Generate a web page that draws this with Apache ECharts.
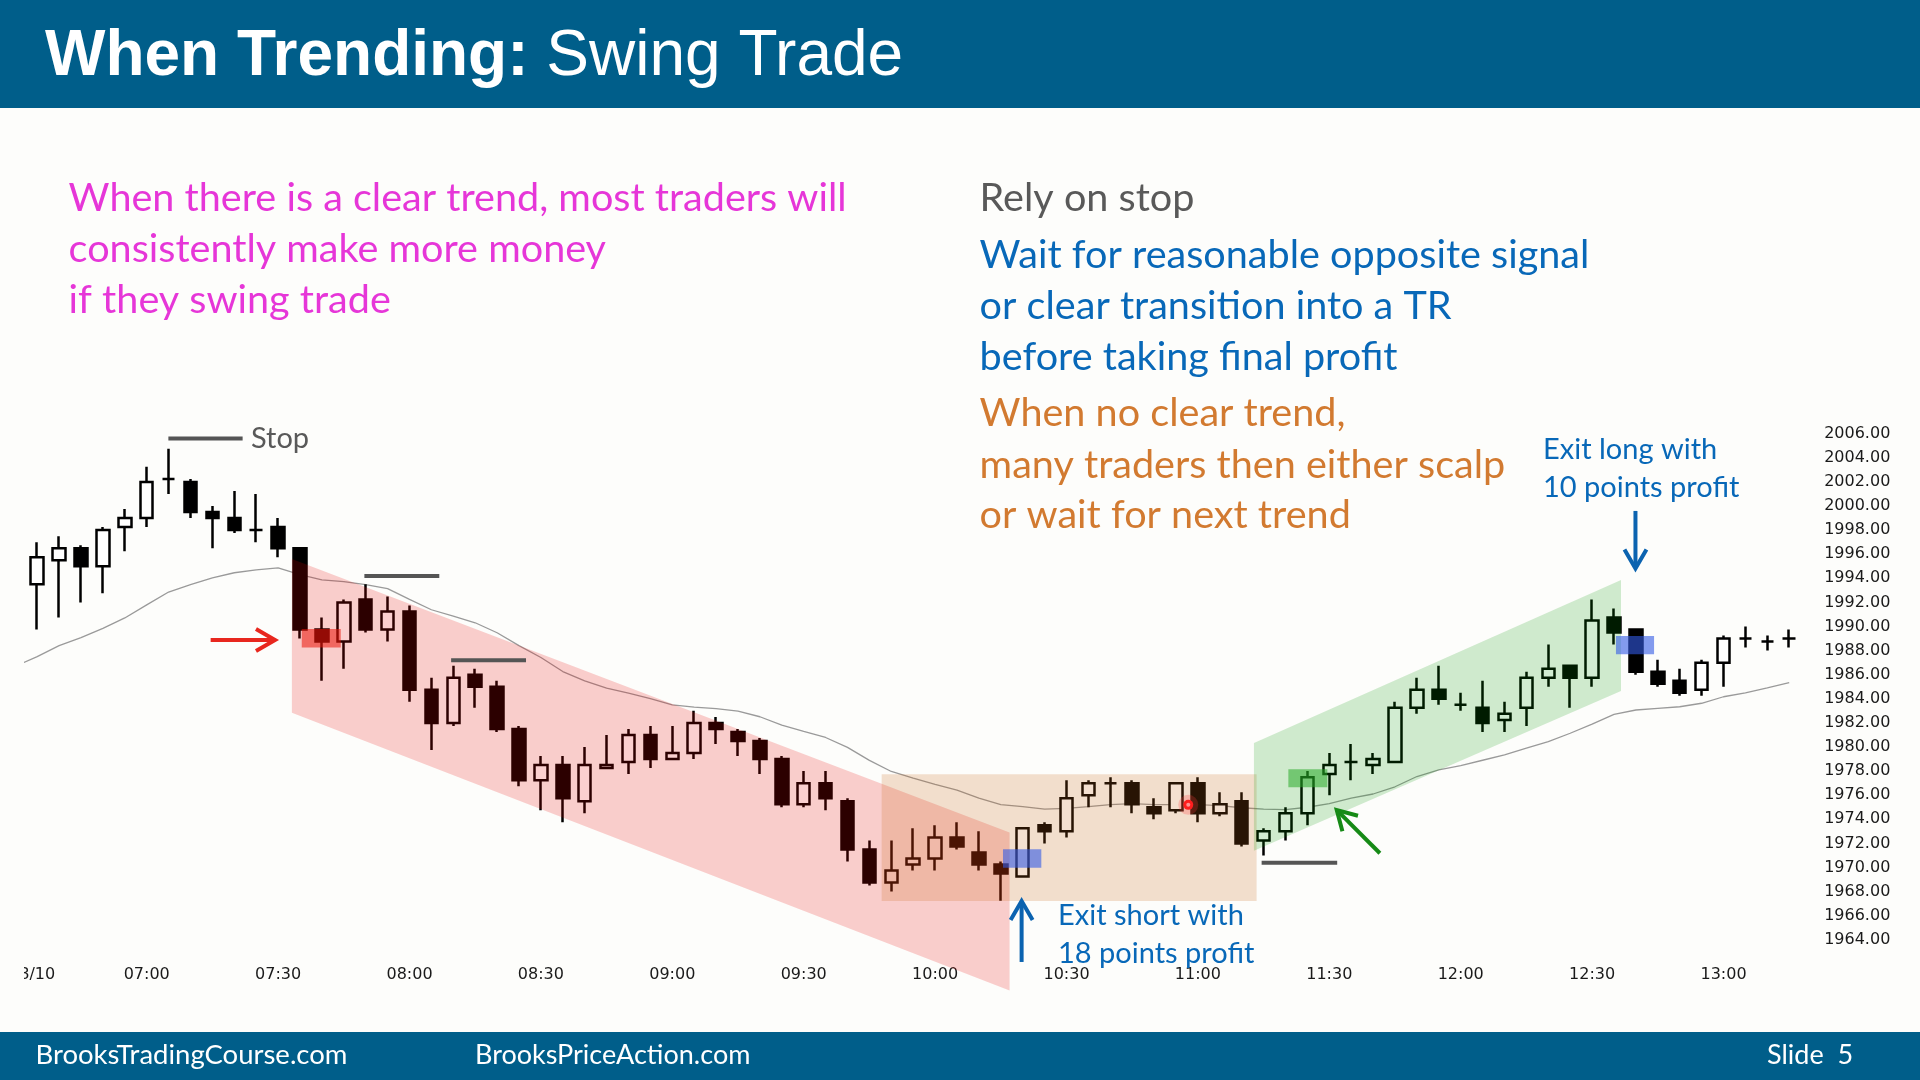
<!DOCTYPE html>
<html><head><meta charset="utf-8">
<script src="https://cdn.jsdelivr.net/npm/echarts@6/dist/echarts.min.js"></script>
<style>html,body{margin:0;padding:0;background:#FDFDFB;}#c{width:1920px;height:1080px;}</style>
</head><body><div id="c"></div>
<script>
// ---------- DATA ----------
const categories = ['06:30','06:35','06:40','06:45','06:50','06:55',
'07:00','07:05','07:10','07:15','07:20','07:25','07:30','07:35','07:40','07:45','07:50','07:55',
'08:00','08:05','08:10','08:15','08:20','08:25','08:30','08:35','08:40','08:45','08:50','08:55',
'09:00','09:05','09:10','09:15','09:20','09:25','09:30','09:35','09:40','09:45','09:50','09:55',
'10:00','10:05','10:10','10:15','10:20','10:25','10:30','10:35','10:40','10:45','10:50','10:55',
'11:00','11:05','11:10','11:15','11:20','11:25','11:30','11:35','11:40','11:45','11:50','11:55',
'12:00','12:05','12:10','12:15','12:20','12:25','12:30','12:35','12:40','12:45','12:50','12:55',
'13:00','13:05','13:10','13:15'];

const opens = [null,1993.5,1995.5,1996.5,1995,1998.25,
1999,2002.25,2002,1999.5,1999,1998,1998.25,1996.5,1989.75,1988.75,1992.25,1989.75,
1991.25,1984.75,1982,1986,1985,1981.5,1977.25,1978.5,1975.5,1978.25,1978.75,1981,
1979,1979.5,1982,1981.25,1980.5,1979,1975.25,1977,1975.5,1971.5,1968.75,1970.25,
1970.75,1972.5,1971.25,1970.25,1969.25,1973.5,1973,1976,1977,1977,1975,1974.75,
1977,1974.5,1975.5,1972.25,1973,1974.5,1977.75,1978.75,1978.5,1978.75,1983.25,1984.75,
1983.5,1983.25,1982.25,1983.25,1985.75,1986.75,1985.75,1990.75,1989.75,1986.25,1985.5,1984.75,
1987,1989,1988.75,1989];
const closes = [null,1995.75,1996.5,1995,1998,1999,
2002,2002.25,1999.5,1999,1998,1998,1996.5,1989.75,1988.75,1992,1989.75,1991.25,
1984.75,1982,1985.75,1985,1981.5,1977.25,1978.5,1975.75,1978.5,1978.5,1981,1979,
1979.5,1982,1981.5,1980.5,1979,1975.25,1977,1975.75,1971.5,1968.75,1969.75,1970.75,
1972.5,1971.75,1970.25,1969.5,1973.25,1973,1975.75,1977,1977,1975.25,1974.5,1977,
1974.5,1975.25,1972,1973,1974.5,1977.5,1978.5,1978.75,1979,1983.25,1984.75,1984,
1983.5,1982,1982.75,1985.75,1986.5,1985.75,1990.5,1989.5,1986.25,1985.25,1984.5,1987,
1989,1989,1988.75,1989];
const lows = [null,1989.75,1990.75,1992,1992.75,1996.25,
1998.25,2001,1999,1996.5,1997.75,1997,1995.75,1989,1985.5,1986.5,1989.5,1988.75,
1983.75,1979.75,1981.75,1983.25,1981.25,1976.75,1974.75,1973.75,1974.5,1978.25,1977.75,1978.25,
1979,1979,1980.25,1979.25,1977.75,1975,1975,1974.75,1970.5,1968.5,1968,1969.75,
1969.75,1971.5,1969.75,1967.25,1969.25,1972,1972.5,1975,1975,1974.5,1974,1974.5,
1973.75,1974.25,1971.75,1971,1972.25,1973.5,1976,1977.25,1977.75,1978.75,1982.75,1983.5,
1983,1981.25,1981.25,1981.75,1985,1983.25,1985,1988.5,1986,1985,1984.25,1984.25,
1985,1988.25,1988,1988.25];
const highs = [null,1997,1997.5,1996.75,1998.25,1999.75,
2003.25,2004.75,2002.25,2000,2001.25,2001,1999,1996.5,1990.75,1992.25,1993.5,1992.5,
1991.75,1985.75,1986.75,1986.5,1985.5,1981.75,1979.25,1979.25,1980,1981,1981.5,1981.75,
1981.75,1983,1982.5,1981.5,1980.75,1979.25,1978,1978,1975.75,1972.25,1972.25,1973.25,
1973.5,1973.75,1973,1970.5,1973.25,1973.75,1977.25,1977.25,1977.5,1977.25,1975.75,1977,
1977.5,1976.25,1976.25,1973.25,1975,1978,1979.5,1980.25,1979.5,1983.75,1985.75,1986.75,
1984.5,1985.5,1983.75,1986.25,1988.5,1986.75,1992.25,1991.5,1989.75,1987.25,1986.5,1987.25,
1989.25,1990,1989.25,1989.75];
const ma20 = [1986.7,1987.5,1988.41,1989.08,1989.85,1990.71,
1991.79,1992.86,1993.47,1994.03,1994.46,1994.7,1994.86,1994.3,1993.87,1993.72,1993.47,1993.14,
1992.25,1991.39,1990.86,1990.31,1989.48,1988.41,1987.43,1986.26,1985.49,1984.88,1984.48,1984.02,
1983.5,1983.31,1983.19,1982.97,1982.51,1981.81,1981.29,1980.79,1979.97,1978.89,1977.97,1977.42,
1976.89,1976.43,1975.76,1975.21,1975.05,1974.84,1974.9,1975.05,1975.21,1975.3,1975.21,1975.21,
1975.21,1975.14,1974.96,1974.84,1974.81,1975.0,1975.3,1975.75,1976.1,1976.7,1977.55,1978.1,
1978.45,1978.9,1979.35,1979.9,1980.45,1981.14,1981.9,1982.7,1983.07,1983.2,1983.34,1983.63,
1984.17,1984.5,1984.9,1985.34];

const tickCats  = ['06:35','07:00','07:30','08:00','08:30','09:00','09:30','10:00','10:30','11:00','11:30','12:00','12:30','13:00'];
const tickTexts = ['8/10','07:00','07:30','08:00','08:30','09:00','09:30','10:00','10:30','11:00','11:30','12:00','12:30','13:00'];

// annotation shapes in data space: [category index, price]
const shortChannel = [[12.63,1995.6],[45.4,1972.9],[45.4,1959.8],[12.63,1982.85]];
const rangeBox     = [[39.56,1977.73],[56.68,1967.22]];
const longChannel  = [[56.56,1980.33],[73.32,1993.86],[73.32,1984.65],[56.56,1971.38]];
const shortEntry   = [[13.08,1989.79],[14.86,1988.26]];
const shortExit    = [[45.1,1971.52],[46.85,1969.98]];
const longEntry    = [[58.13,1978.15],[59.91,1976.66]];
const longExit     = [[73.09,1989.21],[74.83,1987.69]];
const stopLines    = [[6.99,10.38,2005.6],[15.94,19.36,1994.2],[19.9,23.32,1987.2],[56.91,60.36,1970.4]];
const redArrow     = [[8.92,1988.88],[11.86,1988.88]];
const exitShortArrow = [[45.95,1962.16],[45.95,1967.22]];
const exitLongArrow  = [[73.98,1999.59],[73.98,1994.81]];
const greenArrow   = [[62.31,1971.18],[60.34,1974.77]];
const cursorDot    = [53.56,1975.2];

// ---------- CHART ----------
const chart = echarts.init(document.getElementById('c'), null, {renderer:'canvas'});
const candleData = categories.map((c,i)=> opens[i]==null ? '-' : [opens[i],closes[i],lows[i],highs[i]]);
const tickMap = {}; tickCats.forEach((c,i)=>tickMap[c]=tickTexts[i]);

function renderOverlay(params, api){
  const a = api.coord([0,1990]), b = api.coord([1,1990]);
  const bw = b[0]-a[0];
  const P = (i,p)=>[a[0]+i*bw, api.coord([0,p])[1]];
  const rect = (pts, fill)=>{const p1=P(pts[0][0],pts[0][1]), p2=P(pts[1][0],pts[1][1]);
    return {type:'rect', shape:{x:Math.min(p1[0],p2[0]), y:Math.min(p1[1],p2[1]), width:Math.abs(p2[0]-p1[0]), height:Math.abs(p2[1]-p1[1])}, style:{fill}};};
  const poly = (pts, fill)=>({type:'polygon', shape:{points:pts.map(q=>P(q[0],q[1]))}, style:{fill}});
  const arrow = (pts, color)=>{
    const s=P(pts[0][0],pts[0][1]), t=P(pts[1][0],pts[1][1]);
    const ang=Math.atan2(t[1]-s[1], t[0]-s[0]); const L=22, h=Math.PI/6;
    const a1=[t[0]-L*Math.cos(ang-h), t[1]-L*Math.sin(ang-h)];
    const a2=[t[0]-L*Math.cos(ang+h), t[1]-L*Math.sin(ang+h)];
    return [
      {type:'line', shape:{x1:s[0],y1:s[1],x2:t[0]-1.5*Math.cos(ang),y2:t[1]-1.5*Math.sin(ang)}, style:{stroke:color, lineWidth:4}},
      {type:'polyline', shape:{points:[a1,t,a2]}, style:{stroke:color, lineWidth:4, fill:null, lineJoin:'miter'}}
    ];
  };
  const children = [
    poly(shortChannel,'rgba(235,0,0,0.19)'),
    rect(rangeBox,'rgba(200,100,20,0.2)'),
    poly(longChannel,'rgba(0,150,0,0.18)'),
    rect(shortEntry,'rgba(235,20,10,0.55)'),
    rect(shortExit,'rgba(50,90,230,0.6)'),
    rect(longEntry,'rgba(40,170,40,0.55)'),
    rect(longExit,'rgba(50,90,230,0.6)')
  ];
  stopLines.forEach(s=>{const p1=P(s[0],s[2]), p2=P(s[1],s[2]);
    children.push({type:'line', shape:{x1:p1[0],y1:p1[1],x2:p2[0],y2:p2[1]}, style:{stroke:'#555555', lineWidth:4}});});
  children.push(...arrow(redArrow,'#E8271E'));
  children.push(...arrow(exitShortArrow,'#0B63B0'));
  children.push(...arrow(exitLongArrow,'#0B63B0'));
  children.push(...arrow(greenArrow,'#168A16'));
  const d=P(cursorDot[0],cursorDot[1]);
  children.push({type:'circle', shape:{cx:d[0],cy:d[1],r:10}, style:{fill:'rgba(255,60,60,0.25)'}});
  children.push({type:'circle', shape:{cx:d[0],cy:d[1],r:5}, style:{fill:'#FF1E1E'}});
  children.push({type:'circle', shape:{cx:d[0],cy:d[1],r:2}, style:{fill:'#FF9090'}});
  return {type:'group', children};
}

const txt = (x,y,text,size,color,extra)=>Object.assign({type:'text', x, y, z:100,
  style:{text, fontSize:size, fontFamily:'Lato', fill:color, textAlign:'left', textVerticalAlign:'middle'}}, extra||{});

const option = {
  backgroundColor:'#FDFDFB',
  animation:false,
  grid:{left:4.35, right:119.85, top:433.7, bottom:140.2},
  xAxis:{type:'category', data:categories, boundaryGap:true,
    axisLine:{show:false}, axisTick:{show:false}, splitLine:{show:false},
    axisLabel:{interval:(idx,val)=>tickMap[val]!==undefined, formatter:(val)=>tickMap[val]||'',
      margin:27, fontFamily:'DejaVu Sans', fontSize:16, color:'#1a1a1a'}},
  yAxis:{type:'value', position:'right', min:1964, max:2006, interval:2, scale:true,
    axisLine:{show:false}, axisTick:{show:false}, splitLine:{show:false},
    axisLabel:{margin:24, formatter:(v)=>v.toFixed(2), fontFamily:'DejaVu Sans', fontSize:16, color:'#1a1a1a'}},
  series:[
    {type:'line', data:ma20, symbol:'none', z:2, lineStyle:{color:'#9a9a9a', width:1.3}, silent:true},
    {type:'candlestick', data:candleData, barWidth:13, z:3, silent:true,
      itemStyle:{color:'#ffffff', color0:'#000000', borderColor:'#000000', borderColor0:'#000000', borderColorDoji:'#000000', borderWidth:2.5}},
    {type:'custom', data:[0], renderItem:renderOverlay, z:5, clip:false, silent:true}
  ],
  graphic:[
    {type:'rect', z:100, shape:{x:0,y:108,width:24,height:924}, style:{fill:'#FDFDFB'}},
    {type:'rect', z:100, shape:{x:0,y:0,width:1920,height:108}, style:{fill:'#005E8A'}},
    {type:'rect', z:100, shape:{x:0,y:1032,width:1920,height:48}, style:{fill:'#005E8A'}},
    {type:'text', x:45, y:57, z:101, style:{text:'{b|When Trending:} Swing Trade', fontSize:64, fontFamily:'Liberation Sans', fill:'#ffffff', textVerticalAlign:'middle',
      rich:{b:{fontSize:64, fontFamily:'Liberation Sans', fontWeight:'bold', fill:'#ffffff'}}}},
    txt(68.6,198,'When there is a clear trend, most traders will',39.6,'#E636D8'),
    txt(68.6,249.6,'consistently make more money',39.6,'#E636D8'),
    txt(68.6,299.8,'if they swing trade',39.6,'#E636D8'),
    txt(979.6,198,'Rely on stop',39.6,'#595959'),
    txt(979.6,255.7,'Wait for reasonable opposite signal',39.6,'#0868B8'),
    txt(979.6,305.9,'or clear transition into a TR',39.6,'#0868B8'),
    txt(979.6,357.3,'before taking final profit',39.6,'#0868B8'),
    txt(979.6,413.7,'When no clear trend,',39.6,'#D27A30'),
    txt(979.6,465.1,'many traders then either scalp',39.6,'#D27A30'),
    txt(979.6,515.3,'or wait for next trend',39.6,'#D27A30'),
    txt(251,438.4,'Stop',29,'#595959'),
    txt(1543,449.4,'Exit long with',29,'#0868B8'),
    txt(1543,487.3,'10 points profit',29,'#0868B8'),
    txt(1058,916,'Exit short with',29,'#0868B8'),
    txt(1058,954,'18 points profit',29,'#0868B8'),
    txt(35.5,1055,'BrooksTradingCourse.com',27.5,'#ffffff'),
    txt(475,1055,'BrooksPriceAction.com',27,'#ffffff'),
    txt(1767,1055,'Slide  5',27,'#ffffff')
  ]
};
chart.setOption(option);
</script></body></html>
